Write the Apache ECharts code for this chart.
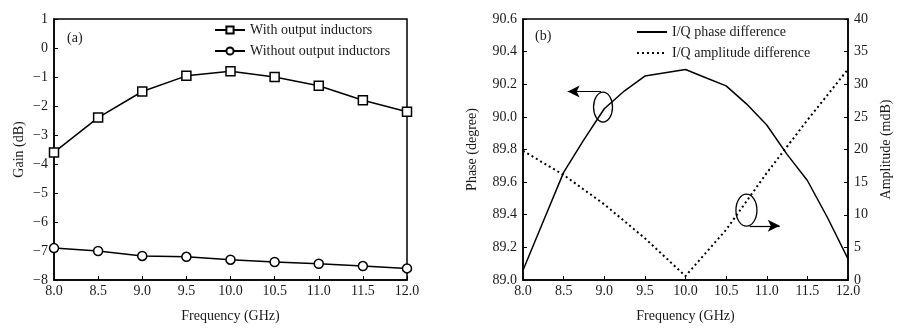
<!DOCTYPE html>
<html><head><meta charset="utf-8">
<script src="https://cdn.jsdelivr.net/npm/echarts@6.0.0/dist/echarts.min.js"></script>
<style>html,body{margin:0;padding:0;background:#fff}#c{width:919px;height:329px}</style>
</head><body><div id="c"></div>
<script>
// ---- data (a) ----
const freqA = [8.0, 8.5, 9.0, 9.5, 10.0, 10.5, 11.0, 11.5, 12.0];
const gainWith = [-3.6, -2.4, -1.5, -0.96, -0.8, -1.0, -1.3, -1.8, -2.2];
const gainWithout = [-6.9, -7.0, -7.17, -7.2, -7.3, -7.38, -7.44, -7.52, -7.6];
// ---- data (b) ----
const freqPhase = [8.0, 8.25, 8.5, 8.75, 9.0, 9.25, 9.5, 9.75, 10.0, 10.25, 10.5, 10.75, 11.0, 11.25, 11.5, 11.75, 12.0];
const phase = [89.06, 89.36, 89.66, 89.86, 90.05, 90.16, 90.25, 90.27, 90.29, 90.24, 90.19, 90.08, 89.95, 89.77, 89.61, 89.38, 89.13];
const freqAmp = [8.0, 8.5, 9.0, 9.5, 10.0, 10.5, 11.0, 11.5, 12.0];
const amplitude = [19.8, 16.1, 11.6, 6.4, 0.6, 7.7, 16.4, 24.5, 32.3];
// tick settings
const xTicks = {min: 8, max: 12, interval: 0.5};
const gainTicks = {min: -8, max: 1, interval: 1};
const phaseTicks = {min: 89.0, max: 90.6, interval: 0.2};
const ampTicks = {min: 0, max: 40, interval: 5};

const FONT = '"Liberation Serif", "DejaVu Serif", serif';
const TXT = '#1a1a1a';
const zip = (xs, ys) => xs.map((x, i) => [x, ys[i]]);
const minus = v => v < 0 ? '\u2212' + Math.abs(v) : String(v);

function xAxis(gridIndex) {
  return {
    type: 'value', gridIndex, ...xTicks,
    name: 'Frequency (GHz)', nameLocation: 'middle', nameGap: 29,
    nameTextStyle: {fontFamily: FONT, fontSize: 14, color: TXT},
    axisLine: {onZero: false, lineStyle: {color: '#000', width: 1.5}},
    axisTick: {inside: true, length: 4, lineStyle: {color: '#000'}},
    axisLabel: {fontFamily: FONT, fontSize: 14, color: TXT, margin: 4, formatter: v => v.toFixed(1)},
    splitLine: {show: false}
  };
}
function yBase(gridIndex, name, gap, ticks, fmt, pos) {
  return {
    type: 'value', gridIndex, ...ticks, position: pos,
    name, nameLocation: 'middle', nameGap: gap,
    nameTextStyle: {fontFamily: FONT, fontSize: 14, color: TXT},
    axisLine: {show: true, onZero: false, lineStyle: {color: '#000', width: 1.5}},
    axisTick: {show: true, inside: true, length: 4, lineStyle: {color: '#000'}},
    axisLabel: {fontFamily: FONT, fontSize: 14, color: TXT, margin: 6, formatter: fmt},
    splitLine: {show: false}
  };
}

const chart = echarts.init(document.getElementById('c'), null, {renderer: 'canvas'});
const option = {
  animation: false,
  backgroundColor: '#fff',
  textStyle: {fontFamily: FONT},
  grid: [
    {left: 54, right: 512, top: 19, bottom: 49, show: true, borderColor: '#000', borderWidth: 1.5},
    {left: 523, right: 71, top: 19, bottom: 49, show: true, borderColor: '#000', borderWidth: 1.5}
  ],
  legend: [
    {orient: 'vertical', left: 214, top: 23, itemWidth: 30, itemHeight: 9, itemGap: 7,
     data: ['With output inductors', 'Without output inductors'],
     textStyle: {fontFamily: FONT, fontSize: 14, color: TXT}, padding: 0},
    {orient: 'vertical', left: 636, top: 25, itemWidth: 30, itemHeight: 9, itemGap: 7,
     data: ['I/Q phase difference', 'I/Q amplitude difference'],
     itemStyle: {opacity: 0},
     textStyle: {fontFamily: FONT, fontSize: 14, color: TXT}, padding: 0}
  ],
  xAxis: [xAxis(0), xAxis(1)],
  yAxis: [
    yBase(0, 'Gain (dB)', 28, gainTicks, minus, 'left'),
    yBase(1, 'Phase (degree)', 44, phaseTicks, v => v.toFixed(1), 'left'),
    yBase(1, 'Amplitude (mdB)', 31, ampTicks, v => String(v), 'right')
  ],
  series: [
    {name: 'With output inductors', type: 'line', xAxisIndex: 0, yAxisIndex: 0,
     data: zip(freqA, gainWith), symbol: 'rect', symbolSize: 9, showAllSymbol: true,
     itemStyle: {color: '#fff', borderColor: '#000', borderWidth: 1.5},
     lineStyle: {color: '#000', width: 1.5}, color: '#000'},
    {name: 'Without output inductors', type: 'line', xAxisIndex: 0, yAxisIndex: 0,
     data: zip(freqA, gainWithout), symbol: 'circle', symbolSize: 9,
     itemStyle: {color: '#fff', borderColor: '#000', borderWidth: 1.5},
     lineStyle: {color: '#000', width: 1.5}, color: '#000'},
    {name: 'I/Q phase difference', type: 'line', xAxisIndex: 1, yAxisIndex: 1,
     data: zip(freqPhase, phase), symbol: 'none',
     lineStyle: {color: '#000', width: 1.5}, color: '#000',
     markLine: {silent: true, symbol: ['none', 'arrow'], symbolSize: [9, 12],
       lineStyle: {color: '#000', width: 1.2, type: 'solid'}, label: {show: false},
       data: [[{coord: [8.96, 90.155]}, {coord: [8.55, 90.155]}]]}},
    {name: 'I/Q amplitude difference', type: 'line', xAxisIndex: 1, yAxisIndex: 2,
     data: zip(freqAmp, amplitude), symbol: 'none',
     lineStyle: {color: '#000', width: 2, type: [2, 3]}, color: '#000',
     markLine: {silent: true, symbol: ['none', 'arrow'], symbolSize: [9, 12],
       lineStyle: {color: '#000', width: 1.2, type: 'solid'}, label: {show: false},
       data: [[{coord: [10.79, 8.3]}, {coord: [11.16, 8.3]}]]}}
  ]
};
chart.setOption(option);

// annotation ellipses placed in data coordinates
const e1 = chart.convertToPixel({xAxisIndex: 1, yAxisIndex: 1}, [8.985, 90.06]);
const e2 = chart.convertToPixel({xAxisIndex: 1, yAxisIndex: 2}, [10.75, 10.7]);
chart.setOption({graphic: [
  {type: 'text', left: 67, top: 31, style: {text: '(a)', font: '14px ' + FONT, fill: TXT}},
  {type: 'text', left: 535, top: 29, style: {text: '(b)', font: '14px ' + FONT, fill: TXT}},
  {type: 'ellipse', shape: {cx: e1[0], cy: e1[1], rx: 9.5, ry: 15}, style: {fill: 'none', stroke: '#000', lineWidth: 1.3}},
  {type: 'ellipse', shape: {cx: e2[0], cy: e2[1], rx: 10.5, ry: 16}, style: {fill: 'none', stroke: '#000', lineWidth: 1.3}}
]});
</script>
</body></html>
